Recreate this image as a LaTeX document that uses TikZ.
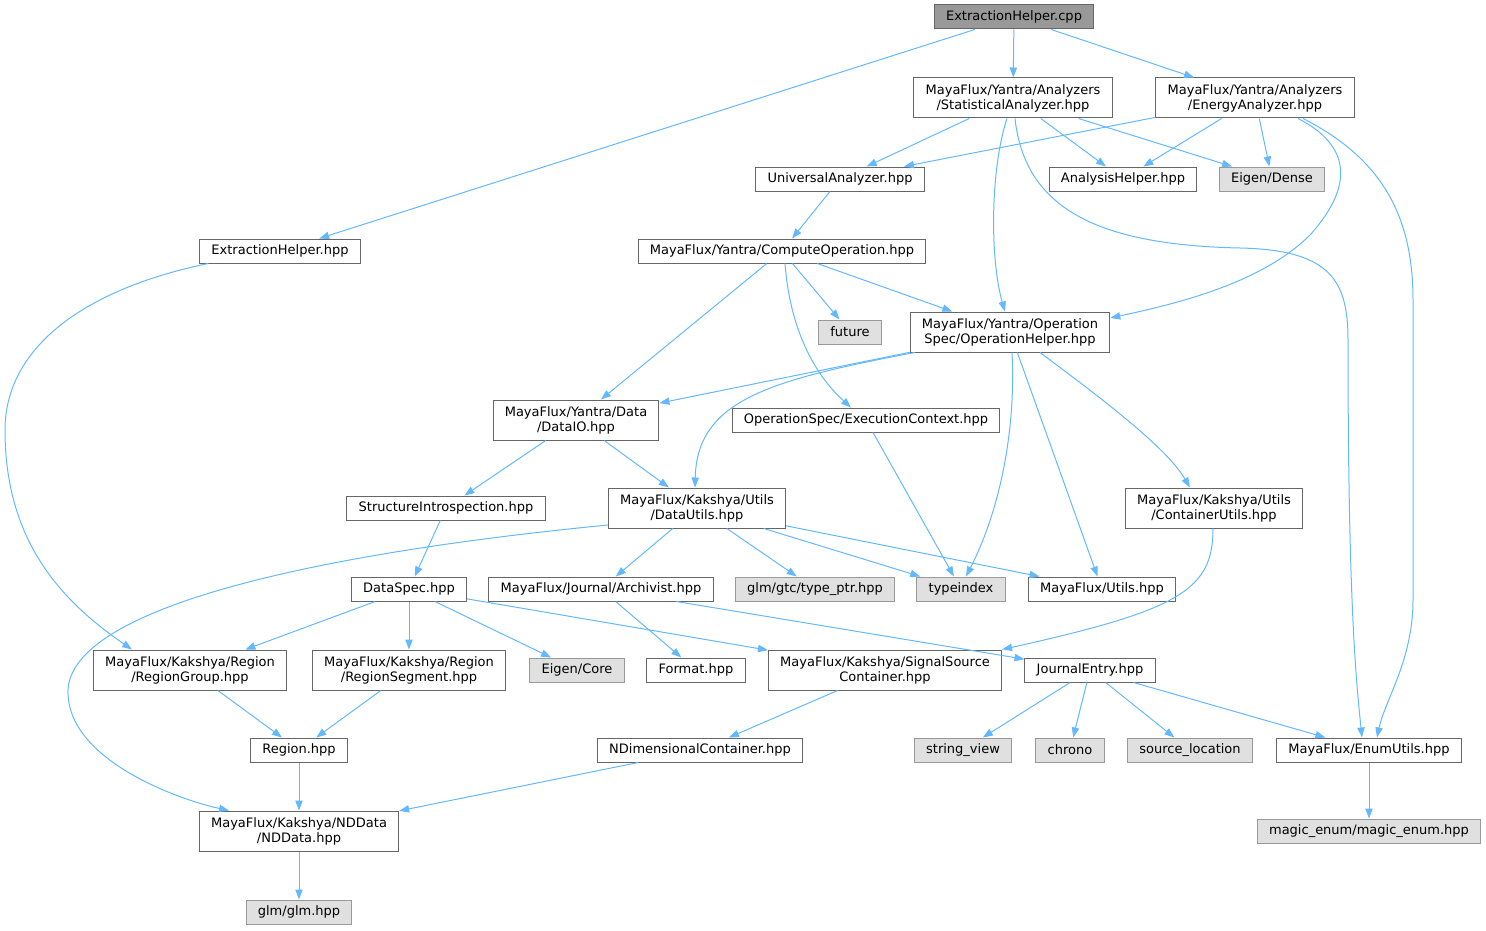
\documentclass[tikz,border=0pt]{standalone}
\usepackage{fontspec}
\setmainfont{DejaVu Sans}
\usepackage{xcolor}
\usepackage{tikz}
\usetikzlibrary{calc}
\usetikzlibrary{arrows.meta}

\definecolor{edgeblue}{HTML}{63B8FF}
\definecolor{boxline}{HTML}{666666}
\definecolor{sysline}{HTML}{999999}
\definecolor{sysfill}{HTML}{E0E0E0}
\definecolor{rootfill}{HTML}{999999}

\tikzset{
  filebox/.style={draw=boxline, fill=white, line width=0.75pt, inner xsep=8.8pt,
    inner ysep=2pt, minimum height=18pt, align=center,
    font=\fontsize{9.75}{11.25}\selectfont},
  twobox/.style={filebox, minimum height=30pt},
  sysbox/.style={filebox, draw=sysline, fill=sysfill},
  rootbox/.style={filebox, fill=rootfill},
  incl/.style={draw=edgeblue, line width=0.75pt, -{Triangle[length=7.5pt,width=5.5pt]}},
}

\begin{document}
\begin{tikzpicture}[x=0.75pt,y=-0.75pt]
                \useasboundingbox (0,0) rectangle (1486,931);

                % Marking node ExtractionHelper.cpp
                \node [rootbox] (root) at (1014,17) {ExtractionHelper.cpp};

                % Marking nodes of the analyzers
                \node [twobox] (stat) at (1013,98) {MayaFlux/Yantra/Analyzers\\/StatisticalAnalyzer.hpp};
                \node [twobox] (energy) at (1255,98) {MayaFlux/Yantra/Analyzers\\/EnergyAnalyzer.hpp};
                \node [filebox] (univ) at (840,179) {UniversalAnalyzer.hpp};
                \node [filebox] (anhelp) at (1123,179) {AnalysisHelper.hpp};
                \node [sysbox] (eigdense) at (1272,179) {Eigen/Dense};

                % Marking nodes of the operations
                \node [filebox] (exhpp) at (280,251) {ExtractionHelper.hpp};
                \node [filebox] (compop) at (782,251) {MayaFlux/Yantra/ComputeOperation.hpp};
                \node [sysbox] (future) at (850,332) {future};
                \node [twobox] (ophelp) at (1010,332) {MayaFlux/Yantra/Operation\\Spec/OperationHelper.hpp};
                \node [twobox] (dataio) at (576,420) {MayaFlux/Yantra/Data\\/DataIO.hpp};
                \node [filebox] (execctx) at (866,420) {OperationSpec/ExecutionContext.hpp};

                % Marking nodes of the utils
                \node [filebox] (structint) at (446,508) {StructureIntrospection.hpp};
                \node [twobox] (datautils) at (697,508) {MayaFlux/Kakshya/Utils\\/DataUtils.hpp};
                \node [twobox] (contutils) at (1214,508) {MayaFlux/Kakshya/Utils\\/ContainerUtils.hpp};
                \node [filebox] (dataspec) at (409,589) {DataSpec.hpp};
                \node [filebox] (archivist) at (601,589) {MayaFlux/Journal/Archivist.hpp};
                \node [sysbox] (typeptr) at (815,589) {glm/gtc/type\_ptr.hpp};
                \node [sysbox] (typeindex) at (961,589) {typeindex};
                \node [filebox] (utils) at (1102,589) {MayaFlux/Utils.hpp};

                % Marking nodes of the regions and containers
                \node [twobox] (regiongrp) at (190,670) {MayaFlux/Kakshya/Region\\/RegionGroup.hpp};
                \node [twobox] (regionseg) at (409,670) {MayaFlux/Kakshya/Region\\/RegionSegment.hpp};
                \node [sysbox] (eigcore) at (577,670) {Eigen/Core};
                \node [filebox] (format) at (696,670) {Format.hpp};
                \node [twobox] (sigsrc) at (885,670) {MayaFlux/Kakshya/SignalSource\\Container.hpp};
                \node [filebox] (jentry) at (1090,670) {JournalEntry.hpp};
                \node [filebox] (region) at (299,750) {Region.hpp};
                \node [filebox] (ndimcont) at (700,750) {NDimensionalContainer.hpp};
                \node [sysbox] (strview) at (963,750) {string\_view};
                \node [sysbox] (chrono) at (1070,750) {chrono};
                \node [sysbox] (srcloc) at (1190,750) {source\_location};
                \node [filebox] (enumutils) at (1369,750) {MayaFlux/EnumUtils.hpp};
                \node [twobox] (nddata) at (299,831) {MayaFlux/Kakshya/NDData\\/NDData.hpp};
                \node [sysbox] (magicenum) at (1369,831) {magic\_enum/magic\_enum.hpp};
                \node [sysbox] (glm) at (299,912) {glm/glm.hpp};

                % Drawing edges from ExtractionHelper.cpp
                \draw [incl] (root) -- (exhpp);
                \draw [incl] (root) -- (stat);
                \draw [incl] (root) -- (energy);

                % Drawing edges from StatisticalAnalyzer
                \draw [incl] (stat) -- (univ);
                \draw [incl] (stat) -- (anhelp);
                \draw [incl] (stat) -- (eigdense);
                \draw [incl] ($(stat.south)+(-6,0)$) .. controls (990,170) and (990,260) .. ($(ophelp.north)+(-5,0)$);
                \draw [incl] ($(stat.south)+(2,0)$) .. controls (1025,210) and (1100,245) .. (1240,248)
                  .. controls (1330,250) and (1348,280) .. (1348,340)
                  .. controls (1348,600) and (1356,680) .. ($(enumutils.north)+(-7,0)$);

                % Drawing edges from EnergyAnalyzer
                \draw [incl] (energy) -- (univ);
                \draw [incl] (energy) -- (anhelp);
                \draw [incl] (energy) -- (eigdense);
                \draw [incl] ($(energy.south)+(43,0)$) .. controls (1350,145) and (1355,185) .. (1310,235)
                  .. controls (1260,285) and (1170,305) .. ($(ophelp.east)+(0,-14)$);
                \draw [incl] ($(energy.south)+(48,0)$) .. controls (1385,160) and (1413,220) .. (1413,300)
                  -- (1413,600) .. controls (1413,660) and (1385,700) .. ($(enumutils.north)+(8,0)$);

                % Drawing edges from UniversalAnalyzer and ComputeOperation
                \draw [incl] (univ) -- (compop);
                \draw [incl] (compop) -- (future);
                \draw [incl] (compop) -- (ophelp);
                \draw [incl] (compop) -- (dataio);
                \draw [incl] ($(compop.south)+(3,0)$) .. controls (790,330) and (815,375) .. ($(execctx.north)+(-15,0)$);

                % Drawing edges from OperationHelper
                \draw [incl] (ophelp) -- (dataio);
                \draw [incl] ($(ophelp.south west)+(5,0)$) .. controls (770,380) and (697,400) .. ($(datautils.north)+(-2,0)$);
                \draw [incl] ($(ophelp.south)+(2,0)$) .. controls (1016,430) and (1000,510) .. ($(typeindex.north)+(5,0)$);
                \draw [incl] (ophelp) -- (utils);
                \draw [incl] ($(ophelp.south)+(30,0)$) .. controls (1090,390) and (1165,445) .. ($(contutils.north)+(-24,0)$);
                \draw [incl] (execctx) -- (typeindex);

                % Drawing edge ExtractionHelper.hpp RegionGroup
                \draw [incl] ($(exhpp.south west)+(9,0)$) .. controls (80,290) and (5,350) .. (5,430)
                  .. controls (5,540) and (60,600) .. ($(regiongrp.north)+(-58,0)$);

                % Drawing edges from DataIO and DataUtils
                \draw [incl] (dataio) -- (structint);
                \draw [incl] (dataio) -- (datautils);
                \draw [incl] (structint) -- (dataspec);
                \draw [incl] (datautils) -- (archivist);
                \draw [incl] (datautils) -- (typeptr);
                \draw [incl] (datautils) -- (typeindex);
                \draw [incl] (datautils) -- (utils);
                \draw [incl] ($(datautils.west)+(0,17)$) .. controls (300,555) and (72,610) .. (68,690)
                  .. controls (66,760) and (180,800) .. ($(nddata.north)+(-70,0)$);
                \draw [incl] ($(contutils.south)+(-1,0)$) .. controls (1213,590) and (1180,610) .. (sigsrc.north east);

                % Drawing edges from DataSpec and Archivist
                \draw [incl] (dataspec) -- (regiongrp);
                \draw [incl] (dataspec) -- (regionseg);
                \draw [incl] (dataspec) -- (eigcore);
                \draw [incl] (dataspec) -- (sigsrc);
                \draw [incl] (archivist) -- (format);
                \draw [incl] (archivist) -- (jentry);

                % Drawing edges of the lower rows
                \draw [incl] (regiongrp) -- (region);
                \draw [incl] (regionseg) -- (region);
                \draw [incl] (sigsrc) -- (ndimcont);
                \draw [incl] (jentry) -- (strview);
                \draw [incl] (jentry) -- (chrono);
                \draw [incl] (jentry) -- (srcloc);
                \draw [incl] (jentry) -- (enumutils);
                \draw [incl] (region) -- (nddata);
                \draw [incl] (ndimcont) -- (nddata);
                \draw [incl] (enumutils) -- (magicenum);
                \draw [incl] (nddata) -- (glm);
\end{tikzpicture}
\end{document}
